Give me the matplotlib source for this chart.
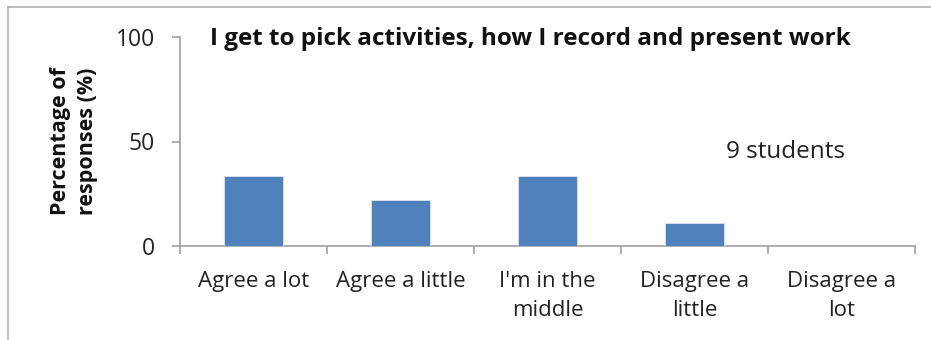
import matplotlib
matplotlib.use("Agg")
import matplotlib.pyplot as plt
from matplotlib.lines import Line2D

categories = ["Agree a lot", "Agree a little", "I'm in the\nmiddle", "Disagree a\nlittle", "Disagree a\nlot"]
values = [33.3, 22.2, 33.3, 11.1, 0.0]
yticks = [0, 50, 100]
title = "I get to pick activities, how I record and present work"
note = "9 students"

plt.rcParams['font.family'] = ['Open Sans', 'DejaVu Sans']
W, H = 931, 340
fig = plt.figure(figsize=(W/100, H/100), dpi=100)
ax = fig.add_axes([180/W, 1-246/H, (915-180)/W, (246-37)/H])

gray = '#A0A0A0'
x = list(range(len(categories)))
ax.bar(x, values, width=0.4, color='#4F81BD', edgecolor='#DCE6F2', linewidth=0.6, zorder=3)
ax.set_xlim(-0.5, len(categories)-0.5)
ax.set_ylim(0, 100)
ax.set_yticks(yticks)
ax.set_yticklabels([str(t) for t in yticks], fontsize=16.5, color='#222222')
ax.set_xticks([i-0.5 for i in range(len(categories)+1)], minor=False)
ax.set_xticklabels([])
ax.set_xticks(x, minor=True)
ax.set_xticklabels(categories, minor=True, fontsize=16, color='#222222', linespacing=1.5)
ax.tick_params(axis='x', which='major', length=6, color=gray, width=1.2)
ax.tick_params(axis='x', which='minor', length=0, pad=18)
ax.tick_params(axis='y', length=6, color=gray, width=1.2, pad=12)
for s in ['top', 'right']:
    ax.spines[s].set_visible(False)
for s in ['left', 'bottom']:
    ax.spines[s].set_color(gray)
    ax.spines[s].set_linewidth(1.2)

ax.set_title(title, fontsize=17.5, fontweight='bold', color='#111111', x=0.477, y=0.96, pad=0)
ax.text(3.62, 45, note, fontsize=17.5, ha='center', va='center', color='#222222')
ax.set_ylabel("Percentage of\nresponses (%)", fontsize=15.5, fontweight='bold', color='#111111', labelpad=13, linespacing=1.35)

fig.add_artist(Line2D([8/W, 8/W], [0, 1-7/H], color='#B0B0B0', lw=1.2, transform=fig.transFigure))
fig.add_artist(Line2D([8/W, 1], [1-7/H, 1-7/H], color='#B0B0B0', lw=1.2, transform=fig.transFigure))

fig.savefig("out.png", dpi=100)
